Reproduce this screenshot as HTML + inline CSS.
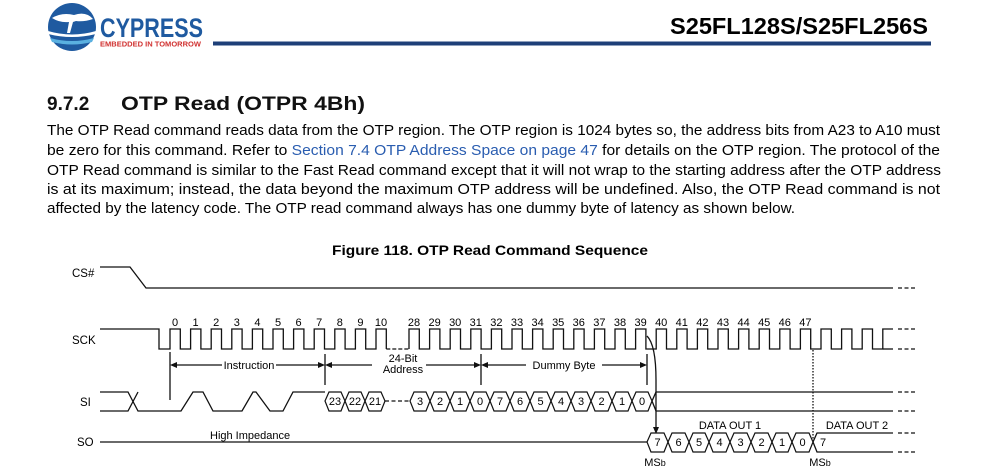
<!DOCTYPE html>
<html><head><meta charset="utf-8"><style>
html,body{margin:0;padding:0;background:#fff;}
svg{display:block;}
text{font-family:"Liberation Sans",Arial,sans-serif;}
</style></head><body>
<svg width="999" height="472" viewBox="0 0 999 472" xmlns="http://www.w3.org/2000/svg" font-family="Liberation Sans, Arial, sans-serif">
<!-- Logo -->
<circle cx="72" cy="27" r="24" fill="#1f5aa0"/>
<path d="M48 31 Q72 38 96 31 L96 34 Q72 40 48 34Z" fill="#fff"/>
<path d="M50 38 Q72 44 94 38 L92 42 Q72 47 52 42Z" fill="#5ab0e0"/>
<path d="M52 18 Q62 12 74 15 Q86 11 93 19 Q84 22 76 21 L73 22 L70 33 L67 33 L69 22 Q60 23 52 18Z" fill="#fff"/>
<text x="100" y="37" font-size="27" font-weight="bold" fill="#1f5aa0" textLength="103" lengthAdjust="spacingAndGlyphs">CYPRESS</text>
<text x="100" y="46.5" font-size="7" font-weight="bold" fill="#d0302f" textLength="101" lengthAdjust="spacingAndGlyphs">EMBEDDED IN TOMORROW</text>
<rect x="213" y="41.5" width="718" height="4" fill="#1e3f78"/>
<text x="670" y="34" font-size="23" font-weight="bold" fill="#000" textLength="258" lengthAdjust="spacingAndGlyphs">S25FL128S/S25FL256S</text>

<!-- Heading -->
<text x="47" y="110" font-size="19" font-weight="bold" fill="#111">9.7.2</text>
<text x="121" y="110" font-size="19" font-weight="bold" fill="#111" textLength="244" lengthAdjust="spacingAndGlyphs">OTP Read (OTPR 4Bh)</text>

<g font-size="15" fill="#000">
<text x="47" y="135" textLength="893" lengthAdjust="spacingAndGlyphs">The OTP Read command reads data from the OTP region. The OTP region is 1024 bytes so, the address bits from A23 to A10 must</text>
<text x="47" y="155" textLength="893" lengthAdjust="spacingAndGlyphs">be zero for this command. Refer to <tspan fill="#2a5db0">Section 7.4 OTP Address Space on page 47</tspan> for details on the OTP region. The protocol of the</text>
<text x="47" y="175" textLength="894" lengthAdjust="spacingAndGlyphs">OTP Read command is similar to the Fast Read command except that it will not wrap to the starting address after the OTP address</text>
<text x="47" y="194" textLength="893" lengthAdjust="spacingAndGlyphs">is at its maximum; instead, the data beyond the maximum OTP address will be undefined. Also, the OTP Read command is not</text>
<text x="47" y="213" textLength="748" lengthAdjust="spacingAndGlyphs">affected by the latency code. The OTP read command always has one dummy byte of latency as shown below.</text>
</g>

<text x="332" y="255" font-size="14" font-weight="bold" fill="#000" textLength="316" lengthAdjust="spacingAndGlyphs">Figure 118.  OTP Read Command Sequence</text>

<!-- Diagram -->
<g font-size="11.5" fill="#000">
<text x="72" y="277">CS#</text>
<text x="72" y="344">SCK</text>
<text x="80" y="406">SI</text>
<text x="77" y="446">SO</text>
</g>
<g fill="none" stroke="#111" stroke-width="1.3">
<path d="M100 267 H130 L146 288 H893"/>
<path d="M100 329 H159 V349 H170 V329 H180.3 V349 H190.6 V329 H200.9 V349 H211.2 V329 H221.5 V349 H231.8 V329 H242.1 V349 H252.4 V329 H262.7 V349 H273 V329 H283.3 V349 H293.6 V329 H303.9 V349 H314.2 V329 H324.5 V349 H334.8 V329 H345.1 V349 H355.4 V329 H365.7 V349 H376 V329 H386.3 V349"/>
<path d="M386.3 349 H409" stroke-dasharray="4 2"/>
<path d="M409 349 V329 H419.3 V349 H429.6 V329 H439.9 V349 H450.2 V329 H460.5 V349 H470.8 V329 H481.1 V349 H491.4 V329 H501.7 V349 H512 V329 H522.3 V349 H532.6 V329 H542.9 V349 H553.2 V329 H563.5 V349 H573.8 V329 H584.1 V349 H594.4 V329 H604.7 V349 H615 V329 H625.3 V349 H635.6 V329 H645.9 V349 H656.2 V329 H666.5 V349 H676.8 V329 H687.1 V349 H697.4 V329 H707.7 V349 H718 V329 H728.3 V349 H738.6 V329 H748.9 V349 H759.2 V329 H769.5 V349 H779.8 V329 H790.1 V349 H800.4 V329 H810.7 V349 H821 V329 H831.3 V349 H841.6 V329 H851.9 V349 H862.2 V329 H872.5 V349 H882.8 V329 H893"/>
<path d="M882.8 349 H893"/>
<path d="M170 352 V400 M325 354 V385 M481 354 V385 M647 354 V385"/>
<path d="M174 365 H222 M276 365 H321 M329 365 H372 M426 365 H477 M485 365 H526 M602 365 H643"/>
<path d="M100 392 H128 L138 411 H181 L193 392 H203 L213 411 H242 L253 392 L256 392 L270 411 H283 L293 392 H325"/>
<path d="M100 411 H128 L138 392"/>
<path d="M385 401 H410" stroke-dasharray="4 2.5"/>
<path d="M652 401 L656 392 H893 M652 401 L656 411 H893"/>
<path d="M100 442 H647"/>
<path d="M813 442 L817 433 H893 M813 442 L817 452 H893"/>
<path d="M898 288 H916 M898 329 H916 M898 349 H916 M898 392 H916 M898 411 H916 M898 433 H916 M898 452 H916" stroke-dasharray="4 2.5"/>
<path d="M647 336 Q656 345 656 380 V428"/>
<path d="M813 350 V440" stroke-dasharray="1.5 1.5"/>
</g>
<g fill="#111">
<path d="M170 365 l7 -3 v6z M325 365 l-7 -3 v6z M325 365 l7 -3 v6z M481 365 l-7 -3 v6z M481 365 l7 -3 v6z M647 365 l-7 -3 v6z"/>
<path d="M656 434 l-3 -7 h6z"/>
</g>
<g fill="#fff" stroke="#111" stroke-width="1.2">
<polygon points="325,401 329,392 341,392 345,401 341,411 329,411"/>
<polygon points="345,401 349,392 361,392 365,401 361,411 349,411"/>
<polygon points="365,401 369,392 381,392 385,401 381,411 369,411"/>
<polygon points="410,401 414,392 426,392 430,401 426,411 414,411"/>
<polygon points="430,401 434,392 446,392 450,401 446,411 434,411"/>
<polygon points="450,401 454,392 466,392 470,401 466,411 454,411"/>
<polygon points="470,401 474,392 486,392 490,401 486,411 474,411"/>
<polygon points="490,401 494,392 506,392 510,401 506,411 494,411"/>
<polygon points="510,401 514,392 526,392 530,401 526,411 514,411"/>
<polygon points="530,401 534,392 547,392 551,401 547,411 534,411"/>
<polygon points="551,401 555,392 567,392 571,401 567,411 555,411"/>
<polygon points="571,401 575,392 587,392 591,401 587,411 575,411"/>
<polygon points="591,401 595,392 608,392 612,401 608,411 595,411"/>
<polygon points="612,401 616,392 628,392 632,401 628,411 616,411"/>
<polygon points="632,401 636,392 648,392 652,401 648,411 636,411"/>
<polygon points="647,442 651,433 664,433 668,442 664,452 651,452"/>
<polygon points="668,442 672,433 685,433 689,442 685,452 672,452"/>
<polygon points="689,442 693,433 705,433 709,442 705,452 693,452"/>
<polygon points="709,442 713,433 726,433 730,442 726,452 713,452"/>
<polygon points="730,442 734,433 747,433 751,442 747,452 734,452"/>
<polygon points="751,442 755,433 768,433 772,442 768,452 755,452"/>
<polygon points="772,442 776,433 788,433 792,442 788,452 776,452"/>
<polygon points="792,442 796,433 809,433 813,442 809,452 796,452"/>
</g>
<g font-size="11" fill="#000" text-anchor="middle">
<text x="335" y="405">23</text><text x="355" y="405">22</text><text x="375" y="405">21</text>
<text x="420" y="405">3</text><text x="440" y="405">2</text><text x="460" y="405">1</text><text x="480" y="405">0</text>
<text x="500" y="405">7</text><text x="520" y="405">6</text><text x="540.5" y="405">5</text><text x="561" y="405">4</text><text x="581" y="405">3</text><text x="601.5" y="405">2</text><text x="622" y="405">1</text><text x="642" y="405">0</text>
<text x="657.5" y="446">7</text><text x="678.5" y="446">6</text><text x="699" y="446">5</text><text x="719.5" y="446">4</text><text x="740.5" y="446">3</text><text x="761.5" y="446">2</text><text x="782" y="446">1</text><text x="802.5" y="446">0</text>
<text x="823" y="446">7</text>
<text x="175" y="326">0</text><text x="195.6" y="326">1</text><text x="216.2" y="326">2</text><text x="236.8" y="326">3</text><text x="257.4" y="326">4</text><text x="278" y="326">5</text><text x="298.6" y="326">6</text><text x="319.2" y="326">7</text><text x="339.8" y="326">8</text><text x="360.4" y="326">9</text><text x="381" y="326">10</text>
<text x="414" y="326">28</text><text x="434.6" y="326">29</text><text x="455.2" y="326">30</text><text x="475.8" y="326">31</text><text x="496.4" y="326">32</text><text x="517" y="326">33</text><text x="537.6" y="326">34</text><text x="558.2" y="326">35</text><text x="578.8" y="326">36</text><text x="599.4" y="326">37</text><text x="620" y="326">38</text><text x="640.6" y="326">39</text><text x="661.2" y="326">40</text><text x="681.8" y="326">41</text><text x="702.4" y="326">42</text><text x="723" y="326">43</text><text x="743.6" y="326">44</text><text x="764.2" y="326">45</text><text x="784.8" y="326">46</text><text x="805.4" y="326">47</text>
<text x="249" y="369">Instruction</text>
<text x="403" y="362">24-Bit</text>
<text x="403" y="373">Address</text>
<text x="564" y="369">Dummy Byte</text>
<text x="730" y="429">DATA OUT 1</text>
<text x="857" y="429">DATA OUT 2</text>
<text x="655" y="466">MS<tspan font-size="9">b</tspan></text>
<text x="820" y="466">MS<tspan font-size="9">b</tspan></text>
</g>
<text x="210" y="439" font-size="11" fill="#000">High Impedance</text>
</svg>
</body></html>
